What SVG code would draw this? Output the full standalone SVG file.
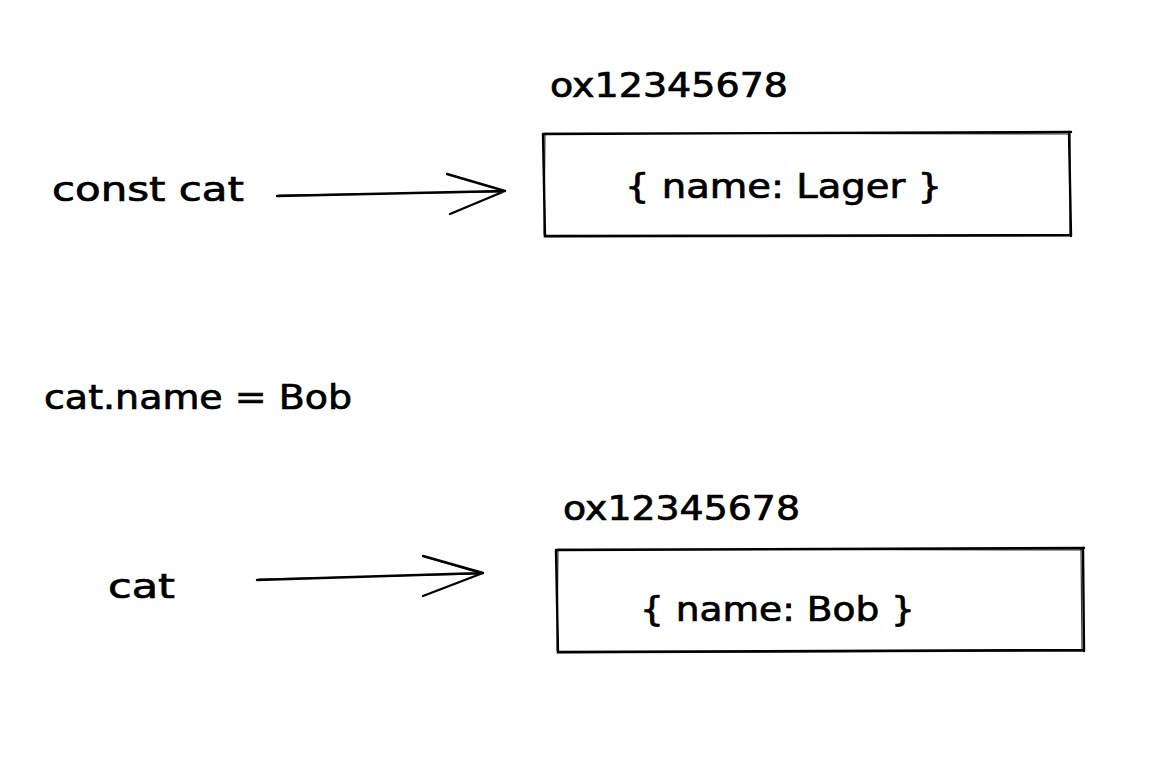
<svg xmlns="http://www.w3.org/2000/svg" width="1154" height="766" viewBox="0 0 1154 766">
<style>
.t{font-family:"DejaVu Sans","Liberation Sans",sans-serif;font-size:33px;fill:#000000;stroke:#000000;stroke-width:0.7}
.s{fill:none;stroke:#000000;stroke-width:2.4;stroke-linecap:round;stroke-linejoin:round}
.s2{fill:none;stroke:#000000;stroke-width:1.2;stroke-linecap:round;opacity:0.8}
</style>
<rect width="1154" height="766" fill="#ffffff"/>
<g id="label-const-cat"><text class="t" x="52" y="201" textLength="192" lengthAdjust="spacingAndGlyphs">const cat</text></g>
<g id="addr1"><text class="t" x="550" y="97" textLength="238" lengthAdjust="spacingAndGlyphs">ox12345678</text></g>
<g id="box1">
<path class="s" d="M543 134 L1071 132 M545 236 L1071 235 M543 134 L545 236 M1069 132 L1071 236"/>
<path class="s2" d="M545 133 L1070 134 M544 237 L1069 236 M545 133 L544 235 M1070 133 L1070 235"/>
<text class="t" x="625" y="198" textLength="317" lengthAdjust="spacingAndGlyphs">{ name: Lager }</text>
</g>
<g id="label-assign"><text class="t" x="44" y="409" textLength="308" lengthAdjust="spacingAndGlyphs">cat.name = Bob</text></g>
<g id="addr2"><text class="t" x="563" y="520" textLength="237" lengthAdjust="spacingAndGlyphs">ox12345678</text></g>
<g id="box2">
<path class="s" d="M556 550 L1084 548 M558 652 L1084 650 M556 550 L558 652 M1083 548 L1084 651"/>
<path class="s2" d="M558 549 L1083 550 M557 653 L1082 651 M558 549 L557 651 M1081 549 L1082 651"/>
<text class="t" x="640" y="621" textLength="275" lengthAdjust="spacingAndGlyphs">{ name: Bob }</text>
</g>
<g id="label-cat"><text class="t" x="108" y="598" textLength="67" lengthAdjust="spacingAndGlyphs">cat</text></g>
<g id="connectors">
<path class="s" d="M277 196 L505 191 M447 174 L505 191 M450 214 L505 191"/>
<path class="s2" d="M279 195 L503 192"/>
<path class="s" d="M257 580 L483 573 M423 556 L483 573 M423 596 L483 573"/>
<path class="s2" d="M259 579 L481 574 M425 557 L482 574"/>
</g>
</svg>
